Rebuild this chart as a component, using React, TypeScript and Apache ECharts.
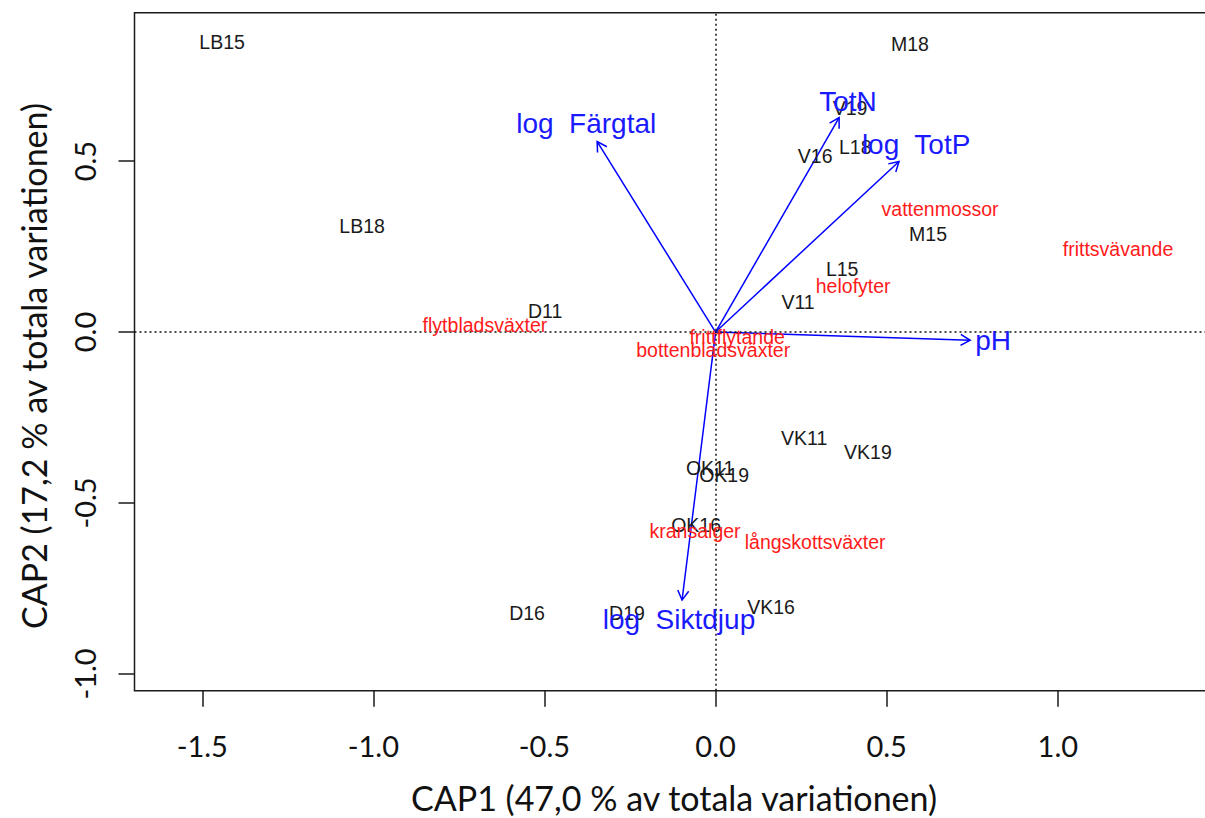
import React, { useEffect, useRef } from "react";
import * as echarts from "echarts";

// Site scores (black labels)
const siteNames = ["LB15", "M18", "V19", "V16", "L18", "LB18", "M15", "L15", "V11", "D11", "VK11", "VK19", "OK11", "OK19", "OK16", "D16", "D19", "VK16"];
const siteX = [-1.442, 0.568, 0.393, 0.291, 0.408, -1.033, 0.621, 0.37, 0.241, -0.498, 0.259, 0.445, -0.016, 0.025, -0.057, -0.551, -0.259, 0.162];
const siteY = [0.849, 0.841, 0.656, 0.516, 0.54, 0.309, 0.288, 0.183, 0.087, 0.063, -0.311, -0.352, -0.398, -0.419, -0.565, -0.822, -0.822, -0.804];

// Species scores (red labels)
const speciesNames = ["frittsvävande", "vattenmossor", "helofyter", "flytbladsväxter", "frittflytande", "bottenbladsväxter", "kransalger", "långskottsväxter"];
const speciesX = [1.176, 0.656, 0.402, -0.674, 0.063, -0.007, -0.06, 0.291];
const speciesY = [0.242, 0.361, 0.136, 0.02, -0.015, -0.053, -0.582, -0.614];

// Environmental vectors (blue arrows)
const envNames = ["log  Färgtal", "TotN", "log  TotP", "pH", "log  Siktdjup"];
const envX = [-0.346, 0.361, 0.536, 0.744, -0.098];
const envY = [0.557, 0.627, 0.499, -0.024, -0.784];
const envLabelX = [-0.378, 0.387, 0.586, 0.811, -0.107];
const envLabelY = [0.61, 0.674, 0.549, -0.024, -0.842];

const tickValues = [-1.5, -1.0, -0.5, 0.0, 0.5, 1.0];
const yTickValues = [-1.0, -0.5, 0.0, 0.5];
const xTitle = "CAP1 (47,0 % av totala variationen)";
const yTitle = "CAP2 (17,2 % av totala variationen)";

const LABEL_FONT = "'Liberation Sans', Arial, sans-serif";
const AXIS_FONT = "Lato, 'Open Sans', sans-serif";

export default function App() {
  const ref = useRef<HTMLDivElement>(null);

  useEffect(() => {
    if (!ref.current) return;
    const chart = echarts.init(ref.current, null, { renderer: "svg" });

    const textSeries = (names: string[], xs: number[], ys: number[], color: string, size: number) => ({
      type: "custom",
      coordinateSystem: "cartesian2d",
      data: names.map((n, i) => [xs[i], ys[i]]),
      encode: { x: 0, y: 1 },
      silent: true,
      z: 5,
      renderItem: (params: any, api: any) => {
        const c = api.coord([api.value(0), api.value(1)]);
        return {
          type: "text",
          x: c[0],
          y: c[1],
          style: {
            text: names[params.dataIndex],
            fill: color,
            fontSize: size,
            fontFamily: LABEL_FONT,
            align: "center",
            verticalAlign: "middle",
          },
        };
      },
    });

    const option: any = {
      animation: false,
      backgroundColor: "#ffffff",
      grid: {
        show: true,
        left: 134.5,
        top: 12.7,
        width: 1079,
        height: 678,
        outerBoundsMode: "none",
        containLabel: false,
        borderColor: "#1a1a1a",
        borderWidth: 1.5,
        backgroundColor: "transparent",
      },
      xAxis: {
        type: "value",
        min: -1.698,
        max: 1.455,
        name: xTitle,
        nameLocation: "middle",
        nameGap: 90,
        nameTextStyle: { fontSize: 34, fontFamily: AXIS_FONT, color: "#111" },
        axisLine: { show: false, onZero: false },
        splitLine: { show: false },
        axisTick: {
          show: true,
          customValues: tickValues,
          length: 16,
          lineStyle: { color: "#1a1a1a", width: 1.5 },
        },
        axisLabel: {
          customValues: tickValues,
          formatter: (v: number) => v.toFixed(1),
          fontSize: 29,
          fontFamily: AXIS_FONT,
          color: "#111",
          margin: 40,
        },
      },
      yAxis: {
        type: "value",
        min: -1.049,
        max: 0.934,
        axisLine: { show: false, onZero: false },
        splitLine: { show: false },
        axisTick: {
          show: true,
          customValues: yTickValues,
          length: 16,
          lineStyle: { color: "#1a1a1a", width: 1.5 },
        },
        axisLabel: {
          customValues: yTickValues,
          formatter: (v: number) => v.toFixed(1),
          rotate: 90,
          fontSize: 29,
          fontFamily: AXIS_FONT,
          color: "#111",
          margin: 36,
        },
      },
      graphic: [
        {
          type: "text",
          x: 33,
          y: 366,
          rotation: Math.PI / 2,
          style: {
            text: yTitle,
            fontSize: 34,
            fontFamily: AXIS_FONT,
            fill: "#111",
            align: "center",
            verticalAlign: "middle",
          },
        },
      ],
      series: [
        {
          type: "custom",
          coordinateSystem: "cartesian2d",
          data: envNames.map((n, i) => [envX[i], envY[i]]),
          encode: { x: 0, y: 1 },
          silent: true,
          z: 3,
          renderItem: (params: any, api: any) => {
            const o = api.coord([0, 0]);
            const e = api.coord([api.value(0), api.value(1)]);
            const ang = Math.atan2(e[1] - o[1], e[0] - o[0]);
            const L = 11;
            const a = Math.PI / 6;
            const p1 = [e[0] - L * Math.cos(ang - a), e[1] - L * Math.sin(ang - a)];
            const p2 = [e[0] - L * Math.cos(ang + a), e[1] - L * Math.sin(ang + a)];
            return {
              type: "group",
              children: [
                {
                  type: "line",
                  shape: { x1: o[0], y1: o[1], x2: e[0], y2: e[1] },
                  style: { stroke: "#0000ff", lineWidth: 1.5 },
                },
                {
                  type: "polyline",
                  shape: { points: [p1, e, p2] },
                  style: { stroke: "#0000ff", fill: "none", lineWidth: 1.5 },
                },
              ],
            };
          },
          markLine: {
            silent: true,
            symbol: ["none", "none"],
            label: { show: false },
            lineStyle: { color: "#111", type: [2, 3], width: 1.5 },
            data: [{ xAxis: 0 }, { yAxis: 0 }],
          },
        },
        textSeries(siteNames, siteX, siteY, "#1a1a1a", 19.5),
        textSeries(speciesNames, speciesX, speciesY, "#ff1a1a", 19.5),
        textSeries(envNames, envLabelX, envLabelY, "#1a1aff", 28),
      ],
    };

    chart.setOption(option);
    return () => chart.dispose();
  }, []);

  return (
    <div
      ref={ref}
      style={{ position: "absolute", left: 0, top: 0, width: 1205, height: 818, background: "#fff" }}
    />
  );
}
